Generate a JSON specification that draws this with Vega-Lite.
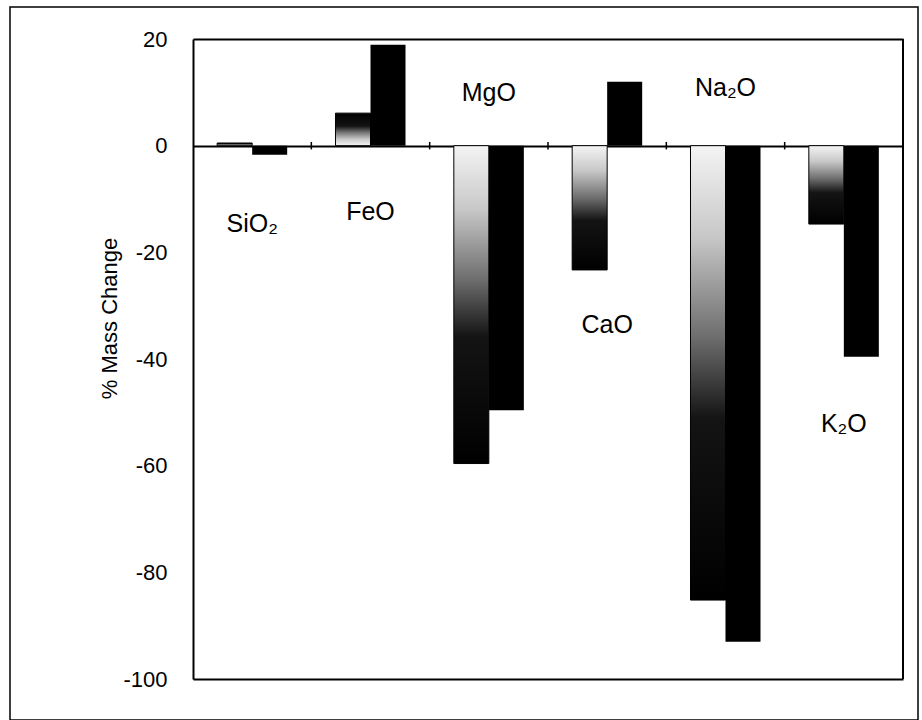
{
  "$schema": "https://vega.github.io/schema/vega-lite/v6.json",
  "width": 908,
  "height": 713,
  "autosize": {"type": "none"},
  "padding": {"left": 10, "top": 7, "right": 4, "bottom": 0},
  "background": "white",
  "config": {
    "font": "Liberation Sans",
    "view": {"stroke": "#000000", "strokeWidth": 1.5}
  },
  "datasets": {
    "mass": [
      {"element": "SiO₂", "series": "a", "change": 0.5},
      {"element": "SiO₂", "series": "b", "change": -1.7},
      {"element": "FeO", "series": "a", "change": 6.1},
      {"element": "FeO", "series": "b", "change": 18.9},
      {"element": "MgO", "series": "a", "change": -59.6},
      {"element": "MgO", "series": "b", "change": -49.6},
      {"element": "CaO", "series": "a", "change": -23.3},
      {"element": "CaO", "series": "b", "change": 12.0},
      {"element": "Na₂O", "series": "a", "change": -85.2},
      {"element": "Na₂O", "series": "b", "change": -93.0},
      {"element": "K₂O", "series": "a", "change": -14.7},
      {"element": "K₂O", "series": "b", "change": -39.6}
    ],
    "labels": [
      {"element": "SiO₂", "at": -14.7},
      {"element": "FeO", "at": -12.5},
      {"element": "MgO", "at": 9.9},
      {"element": "CaO", "at": -33.6},
      {"element": "Na₂O", "at": 10.8},
      {"element": "K₂O", "at": -52.2}
    ]
  },
  "layer": [
    {
      "data": {"name": "mass"},
      "transform": [{"filter": "datum.series === 'a' && datum.change < 0"}],
      "mark": {
        "type": "bar",
        "stroke": "#000000",
        "strokeWidth": 1,
        "fill": {
          "gradient": "linear",
          "x1": 0, "y1": 0, "x2": 0, "y2": 1,
          "stops": [
            {"offset": 0, "color": "#f4f4f4"},
            {"offset": 0.2, "color": "#c8c8c8"},
            {"offset": 0.42, "color": "#6e6e6e"},
            {"offset": 0.6, "color": "#141414"},
            {"offset": 1, "color": "#000000"}
          ]
        }
      },
      "encoding": {
        "x": {
          "field": "element",
          "type": "nominal",
          "sort": ["SiO₂", "FeO", "MgO", "CaO", "Na₂O", "K₂O"],
          "scale": {
            "type": "band",
            "domain": ["SiO₂", "FeO", "MgO", "CaO", "Na₂O", "K₂O"],
            "range": [183, 893],
            "paddingInner": 0,
            "paddingOuter": 0
          },
          "axis": null
        },
        "xOffset": {
          "field": "series",
          "type": "nominal",
          "scale": {"domain": ["a", "b"], "paddingInner": 0, "paddingOuter": 0.69}
        },
        "y": {
          "field": "change",
          "type": "quantitative",
          "scale": {"domain": [-100, 20], "range": [672, 32], "nice": false, "zero": false},
          "axis": {
            "offset": -183,
            "values": [20, 0, -20, -40, -60, -80, -100],
            "labelExpr": "'' + datum.value",
            "ticks": false,
            "tickSize": 0,
            "labelPadding": 26,
            "labelFontSize": 22,
            "labelColor": "#000000",
            "labelFont": "Liberation Sans",
            "domainColor": "#000000",
            "domainWidth": 2,
            "grid": true,
            "gridColor": "#000000",
            "gridWidth": 2,
            "gridOpacity": {
              "condition": {"test": "datum.value === 20 || datum.value === 0 || datum.value === -100", "value": 1},
              "value": 0
            },
            "title": "% Mass Change",
            "titleFont": "Liberation Sans",
            "titleFontSize": 22,
            "titleFontWeight": "normal",
            "titleColor": "#000000",
            "titleAngle": 270,
            "titleAlign": "center",
            "titleBaseline": "middle",
            "titleX": -84,
            "titleY": 311
          }
        }
      }
    },
    {
      "data": {"name": "mass"},
      "transform": [{"filter": "datum.series === 'a' && datum.change >= 0"}],
      "mark": {
        "type": "bar",
        "stroke": "#000000",
        "strokeWidth": 1,
        "fill": {
          "gradient": "linear",
          "x1": 0, "y1": 1, "x2": 0, "y2": 0,
          "stops": [
            {"offset": 0, "color": "#f4f4f4"},
            {"offset": 0.2, "color": "#c8c8c8"},
            {"offset": 0.42, "color": "#6e6e6e"},
            {"offset": 0.6, "color": "#141414"},
            {"offset": 1, "color": "#000000"}
          ]
        }
      },
      "encoding": {
        "x": {"field": "element", "type": "nominal", "axis": null},
        "xOffset": {"field": "series", "type": "nominal"},
        "y": {"field": "change", "type": "quantitative"}
      }
    },
    {
      "data": {"name": "mass"},
      "transform": [{"filter": "datum.series === 'b'"}],
      "mark": {"type": "bar", "fill": "#000000"},
      "encoding": {
        "x": {"field": "element", "type": "nominal", "axis": null},
        "xOffset": {"field": "series", "type": "nominal"},
        "y": {"field": "change", "type": "quantitative"}
      }
    },
    {
      "data": {"name": "labels"},
      "transform": [{"filter": "datum.element !== 'SiO₂'"}],
      "mark": {"type": "rule", "color": "#000000", "strokeWidth": 1.5},
      "encoding": {
        "x": {"field": "element", "type": "nominal", "bandPosition": 0, "axis": null},
        "y": {"datum": -0.7},
        "y2": {"datum": 0.7}
      }
    },
    {
      "data": {"values": [{"edge": "right"}]},
      "mark": {"type": "rule", "color": "#000000", "strokeWidth": 2},
      "encoding": {
        "x": {"datum": "K₂O", "bandPosition": 1, "axis": null},
        "y": {"datum": -100},
        "y2": {"datum": 20}
      }
    },
    {
      "data": {"name": "labels"},
      "mark": {"type": "text", "fontSize": 25, "color": "#000000", "align": "center", "baseline": "middle", "font": "Liberation Sans"},
      "encoding": {
        "x": {"field": "element", "type": "nominal", "axis": null},
        "y": {"field": "at", "type": "quantitative"},
        "text": {"field": "element"}
      }
    }
  ]
}
